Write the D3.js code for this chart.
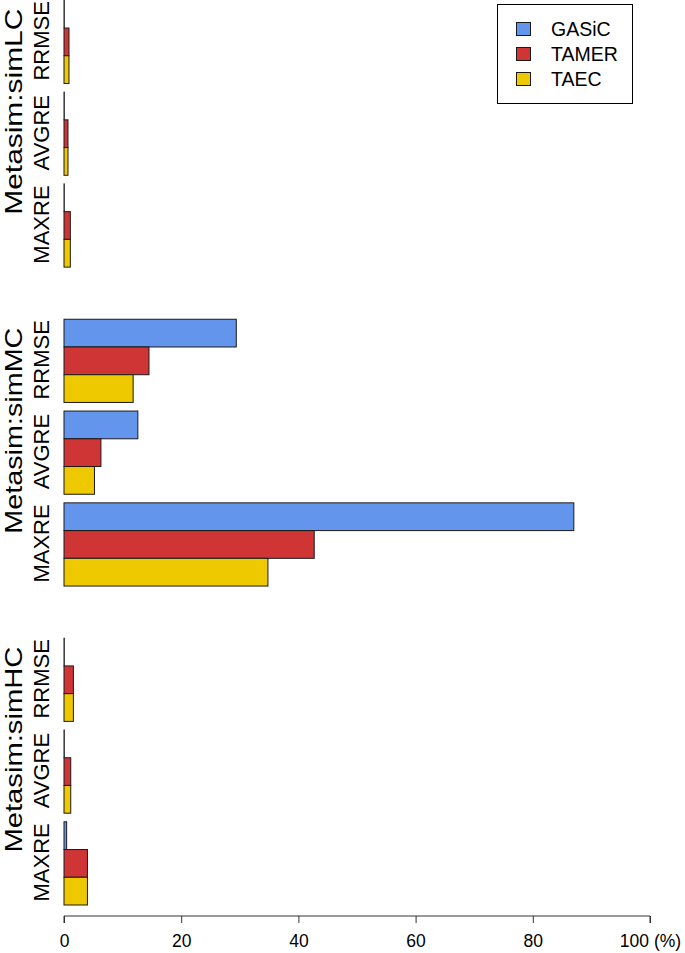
<!DOCTYPE html>
<html>
<head>
<meta charset="utf-8">
<script src="https://cdn.jsdelivr.net/npm/d3@7"></script>
<style>
  html, body { margin: 0; padding: 0; background: #fff; }
  svg { display: block; font-family: "Liberation Sans", Arial, sans-serif; }
</style>
</head>
<body>
<svg id="chart" width="685" height="953"></svg>
<script>
// ---- data ----
const datasets = ["Metasim:simLC", "Metasim:simMC", "Metasim:simHC"];
const metrics = ["RRMSE", "AVGRE", "MAXRE"];
const methods = ["GASiC", "TAMER", "TAEC"];
// values per dataset (rows) and metric (columns), in %
const gasicValues = [[0.05, 0.05, 0.05], [29.4, 12.6, 87.0], [0.05, 0.05, 0.45]];
const tamerValues = [[0.85, 0.68, 1.08], [14.5, 6.3, 42.7], [1.6, 1.15, 4.0]];
const taecValues  = [[0.85, 0.68, 1.08], [11.8, 5.2, 34.8], [1.6, 1.15, 4.0]];
const xTicks = [0, 20, 40, 60, 80, 100];
const xTickLabels = ["0", "20", "40", "60", "80", "100 (%)"];
const colors = ["#6495ED", "#D03535", "#EEC900"];

// ---- layout ----
const svg = d3.select("#chart");
const metricGap = 0.31, clusterGap = 1.88;
const clusterSize = 9 + 2 * metricGap;
const total = 3 * clusterSize + 2 * clusterGap;
const x = d3.scaleLinear().domain([0, 100]).range([64, 650]);
const y = d3.scaleLinear().domain([0, total]).range([0.3, 905]);

const seriesValues = [gasicValues, tamerValues, taecValues];
const bars = [];
datasets.forEach((ds, c) => {
  metrics.forEach((m, mi) => {
    methods.forEach((meth, s) => {
      const pos = c * (clusterSize + clusterGap) + mi * (3 + metricGap) + s;
      bars.push({ ds, m, meth, s, pos, value: seriesValues[s][c][mi] });
    });
  });
});

svg.append("g").selectAll("rect").data(bars).join("rect")
  .attr("x", x(0))
  .attr("y", d => y(d.pos))
  .attr("width", d => x(d.value) - x(0))
  .attr("height", d => y(d.pos + 1) - y(d.pos))
  .attr("fill", d => colors[d.s])
  .attr("stroke", "#1a1a1a")
  .attr("stroke-width", 1);

// metric labels
const mLabels = [];
datasets.forEach((ds, c) => metrics.forEach((m, mi) => {
  const center = c * (clusterSize + clusterGap) + mi * (3 + metricGap) + 1.5;
  mLabels.push({ m, center });
}));
svg.append("g").selectAll("text").data(mLabels).join("text")
  .attr("transform", d => `translate(48.5,${y(d.center) - 1}) rotate(-90)`)
  .attr("text-anchor", "middle")
  .attr("font-size", 22)
  .attr("fill", "#000")
  .text(d => d.m);

// dataset labels
svg.append("g").selectAll("text").data(datasets).join("text")
  .attr("transform", (d, c) => `translate(21.5,${y(c * (clusterSize + clusterGap) + clusterSize / 2) - 22}) rotate(-90)`)
  .attr("text-anchor", "middle")
  .attr("font-size", 24)
  .attr("textLength", 206)
  .attr("lengthAdjust", "spacingAndGlyphs")
  .attr("fill", "#000")
  .text(d => d);

// x axis
const axis = d3.axisBottom(x).tickValues(xTicks).tickSize(7).tickPadding(6)
  .tickFormat((d, i) => xTickLabels[i]);
const gx = svg.append("g").attr("transform", "translate(0,916)").call(axis);
gx.select(".domain").attr("stroke", "#333").attr("d", `M${x(0)},7V0H${x(100)}V7`);
gx.selectAll(".tick line").attr("stroke", "#333");
gx.selectAll(".tick text").attr("font-size", 17.5).attr("fill", "#000")
  .attr("y", 30.5).attr("dy", 0)
  .attr("font-family", "Liberation Sans, Arial, sans-serif");

// legend
const lg = svg.append("g");
lg.append("rect").attr("x", 497.5).attr("y", 4.5).attr("width", 135).attr("height", 99)
  .attr("fill", "#fff").attr("stroke", "#000");
methods.forEach((m, i) => {
  lg.append("rect").attr("x", 516.5).attr("y", 22.5 + i * 25).attr("width", 14).attr("height", 13)
    .attr("fill", colors[i]).attr("stroke", "#1a1a1a");
  lg.append("text").attr("x", 551).attr("y", 36 + i * 25)
    .attr("font-size", 19.5).attr("fill", "#000").text(m);
});
</script>
</body>
</html>
